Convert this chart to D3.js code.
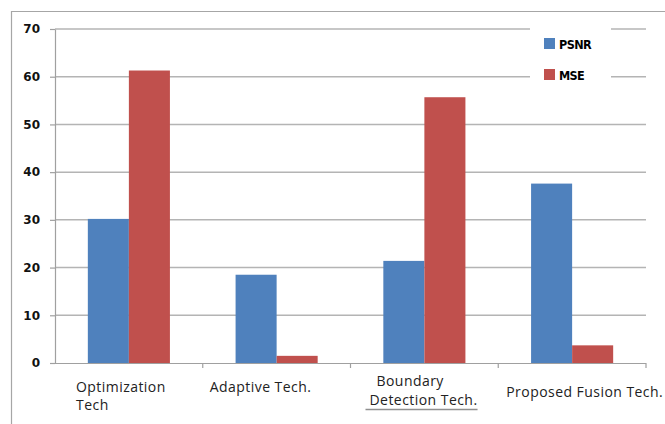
<!DOCTYPE html>
<html>
<head>
<meta charset="utf-8">
<script src="https://cdn.jsdelivr.net/npm/d3@7"></script>
<style>
  body { margin: 0; background: #fff; }
  svg { display: block; }
</style>
</head>
<body>
<svg id="chart" width="665" height="424"></svg>
<script>
const categories = ["Optimization Tech", "Adaptive Tech.", "Boundary Detection Tech.", "Proposed Fusion Tech."];
const labelLines = [["Optimization", "Tech"], ["Adaptive Tech."], ["Boundary", "Detection Tech."], ["Proposed Fusion Tech."]];
const seriesNames = ["PSNR", "MSE"];
const psnr = [30.2, 18.5, 21.4, 37.6];
const mse = [61.3, 1.5, 55.7, 3.7];
const yTicks = [0, 10, 20, 30, 40, 50, 60, 70];
const colors = ["#4f81bd", "#c0504d"];

const svg = d3.select("#chart");
const margin = {top: 29, left: 55, right: 19, bottom: 61};
const W = 665, H = 424;
const plotRight = W - margin.right;
const base = H - margin.bottom;

// outer frame (only top and left show)
svg.append("path")
  .attr("d", "M11.5," + H + "V11.5H" + W)
  .attr("fill", "none").attr("stroke", "#a6a6a6").attr("stroke-width", 1.2);

const x0 = d3.scaleBand().domain(categories).range([margin.left, plotRight]);
const x1 = d3.scaleBand().domain(seriesNames).range([0, x0.bandwidth()]).paddingOuter(0.8);
const y = d3.scaleLinear().domain([0, 70]).range([base, margin.top]);

// gridlines
svg.append("g")
  .selectAll("line")
  .data(yTicks.filter(d => d > 0))
  .enter().append("line")
    .attr("x1", margin.left).attr("x2", plotRight)
    .attr("y1", d => y(d)).attr("y2", d => y(d))
    .attr("stroke", "#b4b4b4").attr("stroke-width", 1.5);

// y axis
const yAxis = svg.append("g")
  .attr("transform", "translate(" + margin.left + ",0)")
  .call(d3.axisLeft(y).tickValues(yTicks).tickSize(5).tickSizeOuter(0).tickPadding(10));
yAxis.selectAll("path, line").attr("stroke", "#a0a0a0").attr("stroke-width", 1.2);
yAxis.selectAll("text")
  .attr("font-family", "'DejaVu Sans', sans-serif")
  .attr("font-weight", "bold")
  .attr("font-size", 12)
  .attr("fill", "#111");

// bars
const data = categories.map((c, i) => ({cat: c, vals: [psnr[i], mse[i]]}));
const groups = svg.append("g").selectAll("g")
  .data(data)
  .enter().append("g")
    .attr("transform", d => "translate(" + x0(d.cat) + ",0)");
groups.selectAll("rect")
  .data(d => d.vals.map((v, j) => ({key: seriesNames[j], v: v, j: j})))
  .enter().append("rect")
    .attr("x", d => x1(d.key))
    .attr("y", d => y(d.v))
    .attr("width", x1.bandwidth())
    .attr("height", d => base - y(d.v))
    .attr("fill", d => colors[d.j]);

// x axis line with ticks at category boundaries
const bounds = categories.map(c => x0(c)).concat([plotRight]);
const xAxis = svg.append("g");
xAxis.append("line")
  .attr("x1", margin.left - 5).attr("x2", plotRight)
  .attr("y1", base + 0.5).attr("y2", base + 0.5)
  .attr("stroke", "#a0a0a0").attr("stroke-width", 1.2);
xAxis.selectAll(".tk")
  .data(bounds.slice(1))
  .enter().append("line")
    .attr("x1", d => d).attr("x2", d => d)
    .attr("y1", base).attr("y2", base + 5)
    .attr("stroke", "#a0a0a0").attr("stroke-width", 1.2);

// category labels: the source places each one a little differently
const labelPlace = [
  {dx: [21, 21], dy: [29, 47]},
  {dx: [7], dy: [29]},
  {dx: [26, 19], dy: [23, 42]},
  {dx: [8], dy: [34]}
];
categories.forEach((c, i) => {
  const p = labelPlace[i];
  const t = svg.append("text")
    .attr("font-family", "'Open Sans', sans-serif")
    .attr("font-size", 14)
    .attr("letter-spacing", 0.45)
    .attr("fill", "#222");
  labelLines[i].forEach((ln, k) => {
    t.append("tspan").attr("x", x0(c) + p.dx[k]).attr("y", base + p.dy[k]).text(ln);
  });
  if (i === 2) {
    const n = t.selectAll("tspan").nodes()[1];
    const w = n.getComputedTextLength();
    const sx = x0(c) + p.dx[1];
    svg.append("line")
      .attr("x1", sx - 4).attr("x2", sx + w)
      .attr("y1", base + 46.5).attr("y2", base + 46.5)
      .attr("stroke", "#909090").attr("stroke-width", 1.5);
  }
});

// legend
const legend = svg.append("g");
legend.append("rect")
  .attr("x", 530).attr("y", 22).attr("width", 81).attr("height", 64)
  .attr("fill", "#fff");
seriesNames.forEach((s, i) => {
  legend.append("rect")
    .attr("x", 544).attr("y", 38 + i * 31)
    .attr("width", 11).attr("height", 11)
    .attr("fill", colors[i]);
  legend.append("text")
    .attr("x", 559).attr("y", 48.5 + i * 31)
    .attr("font-family", "'DejaVu Sans Condensed', 'DejaVu Sans', sans-serif")
    .attr("font-weight", "bold")
    .attr("font-size", 12.5)
    .attr("letter-spacing", -0.6)
    .attr("fill", "#000")
    .text(s);
});
</script>
</body>
</html>
